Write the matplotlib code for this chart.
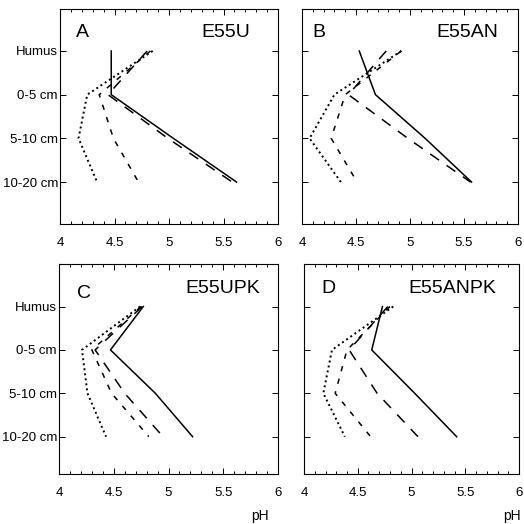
import numpy as np
import matplotlib
matplotlib.use('Agg')
import matplotlib.pyplot as plt
from matplotlib.ticker import MultipleLocator, FuncFormatter

plt.rcParams['font.family'] = ['Liberation Sans', 'DejaVu Sans']

depths = ['Humus', '0-5 cm', '5-10 cm', '10-20 cm']

# pH profiles per plot, one list per treatment line
a_solid = [4.47, 4.47, 5.04, 5.62]
a_long = [4.80, 4.44, 4.99, 5.58]
a_short = [4.83, 4.36, 4.49, 4.72]
a_dot = [4.85, 4.25, 4.17, 4.34]

b_solid = [4.53, 4.68, 5.14, 5.57]
b_long = [4.78, 4.43, 4.98, 5.56]
b_short = [4.92, 4.40, 4.27, 4.51]
b_dot = [4.92, 4.30, 4.07, 4.36]

c_solid = [4.77, 4.47, 4.88, 5.22]
c_long = [4.76, 4.33, 4.60, 4.95]
c_short = [4.75, 4.30, 4.48, 4.82]
c_dot = [4.74, 4.21, 4.26, 4.43]

d_solid = [4.73, 4.63, 5.03, 5.42]
d_long = [4.78, 4.42, 4.68, 5.06]
d_short = [4.80, 4.40, 4.29, 4.62]
d_dot = [4.83, 4.26, 4.18, 4.38]

W = 524.0
fig = plt.figure(figsize=(5.24, 5.24), dpi=100)

def px_axes(x0, x1, ytop, ybot):
    return fig.add_axes([x0 / W, 1 - ybot / W, (x1 - x0) / W, (ybot - ytop) / W])

panels = [
    (px_axes(60, 278, 9, 224), 'A', 'E55U', a_solid, a_long, a_short, a_dot,
     (0.075, 0.89), (0.87, 0.89), (4.96, 0.04)),
    (px_axes(302, 518, 9, 224), 'B', 'E55AN', b_solid, b_long, b_short, b_dot,
     (0.05, 0.89), (0.91, 0.89), (4.96, 0.04)),
    (px_axes(59, 278, 264, 474), 'C', 'E55UPK', c_solid, c_long, c_short, c_dot,
     (0.08, 0.86), (0.92, 0.885), (4.86, 0.02)),
    (px_axes(304, 519, 264, 474), 'D', 'E55ANPK', d_solid, d_long, d_short, d_dot,
     (0.08, 0.885), (0.895, 0.885), (4.86, 0.02)),
]

y = np.arange(1, len(depths) + 1)

for i, (ax, letter, name, s, l, sh, dt, lpos, npos, ylim) in enumerate(panels):
    ax.plot(s, y, color='black', lw=1.1, linestyle='-')
    ax.plot(l, y, color='black', lw=1.1, linestyle=(0, (7, 6)))
    ax.plot(sh, y, color='black', lw=1.1, linestyle=(0, (3.5, 5)))
    ax.plot(dt, y, color='black', lw=1.4, linestyle=(0, (1, 1.6)))

    ax.set_xlim(4, 6)
    ax.set_ylim(*ylim)
    ax.xaxis.set_major_locator(MultipleLocator(0.5))
    ax.xaxis.set_minor_locator(MultipleLocator(0.1))
    ax.xaxis.set_major_formatter(FuncFormatter(lambda v, p: '%g' % v))
    ax.set_yticks(y)
    if i % 2 == 0:
        ax.set_yticklabels(depths)
    else:
        ax.set_yticklabels([])
    ax.tick_params(axis='x', which='both', direction='in', top=True, bottom=True,
                   labelsize=9.5, pad=9, width=0.7)
    ax.tick_params(axis='x', which='major', length=4)
    ax.tick_params(axis='x', which='minor', length=2.5)
    ax.tick_params(axis='y', which='both', direction='in', left=True, right=True,
                   labelsize=9.5, pad=1.5, length=4, width=0.7)
    for sp in ax.spines.values():
        sp.set_linewidth(0.8)

    ax.text(lpos[0], lpos[1], letter, transform=ax.transAxes, fontsize=14,
            ha='left', va='center')
    ax.text(npos[0], npos[1], name, transform=ax.transAxes, fontsize=14,
            ha='right', va='center')

fig.text(260 / W, 1 - 516 / W, 'pH', fontsize=10, ha='center', va='center')
fig.text(512 / W, 1 - 516 / W, 'pH', fontsize=10, ha='center', va='center')

fig.savefig('out.png', dpi=100)
